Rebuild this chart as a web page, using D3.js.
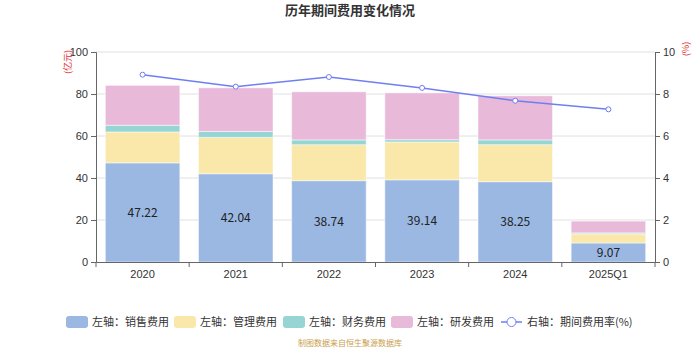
<!DOCTYPE html>
<html>
<head>
<meta charset="utf-8">
<script src="https://cdn.jsdelivr.net/npm/d3@7"></script>
<style>
  body { margin: 0; background: #fff; }
  svg { font-family: "Noto Sans CJK SC", "Noto Sans", sans-serif; }
</style>
</head>
<body>
<div id="chart"></div>
<script>
// data
const years = ["2020", "2021", "2022", "2023", "2024", "2025Q1"]
const sales = [47.22, 42.04, 38.74, 39.14, 38.25, 9.07]
const admin = [14.7, 17.3, 17.1, 18.0, 17.6, 4.3]
const finance = [3.2, 2.8, 2.3, 1.1, 2.3, 0.5]
const rnd = [19.0, 20.8, 22.9, 22.3, 21.0, 5.6]
const rate = [8.92, 8.35, 8.81, 8.29, 7.68, 7.27]
const leftTicks = [0, 20, 40, 60, 80, 100]
const rightTicks = [0, 2, 4, 6, 8, 10]

const seriesNames = ["左轴：销售费用", "左轴：管理费用", "左轴：财务费用", "左轴：研发费用"]
const colors = ["#9bb8e3", "#f9e8a9", "#96d5d3", "#e8b9d9"]
const lineColor = "#6f7ef3"

const width = 700, height = 350
const margin = { top: 52, bottom: 88, left: 96, right: 45 }

const svg = d3.select("#chart").append("svg")
    .attr("width", width)
    .attr("height", height)

const x = d3.scaleBand()
    .domain(years)
    .range([margin.left, width - margin.right])
    .paddingInner(0.2)
    .paddingOuter(0.1)

const y = d3.scaleLinear()
    .domain([0, 100])
    .range([height - margin.bottom, margin.top])

const y2 = d3.scaleLinear()
    .domain([0, 10])
    .range([height - margin.bottom, margin.top])

// grid
svg.append("g")
    .selectAll("line")
    .data(leftTicks.slice(1))
    .enter()
    .append("line")
    .attr("x1", margin.left)
    .attr("x2", width - margin.right)
    .attr("y1", d => y(d))
    .attr("y2", d => y(d))
    .attr("stroke", "#e0e0e0")

// stacked bars
const table = years.map((yr, i) => ({ year: yr, s0: sales[i], s1: admin[i], s2: finance[i], s3: rnd[i] }))
const stack = d3.stack().keys(["s0", "s1", "s2", "s3"])(table)

svg.append("g")
    .selectAll("g")
    .data(stack)
    .enter()
    .append("g")
    .attr("fill", (d, i) => colors[i])
    .selectAll("rect")
    .data(d => d)
    .enter()
    .append("rect")
    .attr("x", d => x(d.data.year))
    .attr("width", x.bandwidth())
    .attr("y", d => y(d[1]))
    .attr("height", d => y(d[0]) - y(d[1]))
    .attr("stroke", "rgba(255,255,255,0.5)")
    .attr("stroke-width", 1)

// labels inside sales bars
svg.append("g")
    .selectAll("text")
    .data(table)
    .enter()
    .append("text")
    .attr("x", d => x(d.year) + x.bandwidth() / 2)
    .attr("y", d => y(d.s0 / 2))
    .attr("dy", "0.35em")
    .attr("text-anchor", "middle")
    .attr("font-size", 12)
    .attr("fill", "#222")
    .text(d => d.s0.toFixed(2))

// axes
const xAxis = svg.append("g")
    .attr("transform", `translate(0,${height - margin.bottom})`)
    .call(d3.axisBottom(x).tickSize(0).tickPadding(8))
xAxis.select(".domain").attr("stroke", "#666")
xAxis.selectAll("text").attr("font-size", 11).attr("fill", "#333")
// ticks sit on the band boundaries
xAxis.selectAll(".bound")
    .data(d3.range(years.length + 1))
    .enter()
    .append("line")
    .attr("class", "bound")
    .attr("x1", i => margin.left + i * x.step())
    .attr("x2", i => margin.left + i * x.step())
    .attr("y1", 0)
    .attr("y2", 5)
    .attr("stroke", "#666")

const yAxis = svg.append("g")
    .attr("transform", `translate(${margin.left},0)`)
    .call(d3.axisLeft(y).tickValues(leftTicks).tickSize(5).tickPadding(3))
yAxis.select(".domain").attr("stroke", "#666")
yAxis.selectAll("line").attr("stroke", "#666")
yAxis.selectAll("text").attr("font-size", 11).attr("fill", "#333")

const yAxis2 = svg.append("g")
    .attr("transform", `translate(${width - margin.right},0)`)
    .call(d3.axisRight(y2).tickValues(rightTicks).tickSize(5).tickPadding(3))
yAxis2.select(".domain").attr("stroke", "#666")
yAxis2.selectAll("line").attr("stroke", "#666")
yAxis2.selectAll("text").attr("font-size", 11).attr("fill", "#333")

// unit labels
svg.append("text")
    .attr("transform", `translate(68,${margin.top + 10}) rotate(-90)`)
    .attr("text-anchor", "middle")
    .attr("dy", "0.35em")
    .attr("font-size", 9)
    .attr("fill", "#e03030")
    .text("(亿元)")

svg.append("text")
    .attr("transform", `translate(686,${margin.top - 3}) rotate(-90)`)
    .attr("text-anchor", "middle")
    .attr("dy", "0.35em")
    .attr("font-size", 9)
    .attr("fill", "#e03030")
    .text("(%)")

// rate line
const line = d3.line()
    .x((d, i) => x(years[i]) + x.bandwidth() / 2)
    .y(d => y2(d))

svg.append("path")
    .datum(rate)
    .attr("d", line)
    .attr("fill", "none")
    .attr("stroke", lineColor)
    .attr("stroke-width", 1.5)

svg.append("g")
    .selectAll("circle")
    .data(rate)
    .enter()
    .append("circle")
    .attr("cx", (d, i) => x(years[i]) + x.bandwidth() / 2)
    .attr("cy", d => y2(d))
    .attr("r", 2.5)
    .attr("fill", "#fff")
    .attr("stroke", lineColor)
    .attr("stroke-width", 1)

// title
svg.append("text")
    .attr("x", width / 2)
    .attr("y", 15)
    .attr("text-anchor", "middle")
    .attr("font-size", 13)
    .attr("font-weight", "bold")
    .attr("fill", "#333")
    .text("历年期间费用变化情况")

// legend
const legendX = [66, 174, 283, 391]
const legend = svg.append("g")
seriesNames.forEach((name, i) => {
    legend.append("rect")
        .attr("x", legendX[i])
        .attr("y", 316)
        .attr("width", 22)
        .attr("height", 12)
        .attr("rx", 3)
        .attr("fill", colors[i])
    legend.append("text")
        .attr("x", legendX[i] + 26)
        .attr("y", 322)
        .attr("dy", "0.35em")
        .attr("font-size", 11)
        .attr("fill", "#333")
        .text(name)
})
legend.append("line")
    .attr("x1", 501).attr("x2", 522)
    .attr("y1", 322).attr("y2", 322)
    .attr("stroke", lineColor)
    .attr("stroke-width", 1.5)
legend.append("circle")
    .attr("cx", 511.5).attr("cy", 322).attr("r", 4.5)
    .attr("fill", "#fff")
    .attr("stroke", lineColor)
legend.append("text")
    .attr("x", 527)
    .attr("y", 322)
    .attr("dy", "0.35em")
    .attr("font-size", 11)
    .attr("fill", "#333")
    .text("右轴：期间费用率(%)")

// source
svg.append("text")
    .attr("x", width / 2)
    .attr("y", 346)
    .attr("text-anchor", "middle")
    .attr("font-size", 8)
    .attr("fill", "#c9a04c")
    .text("制图数据来自恒生聚源数据库")
</script>
</body>
</html>
